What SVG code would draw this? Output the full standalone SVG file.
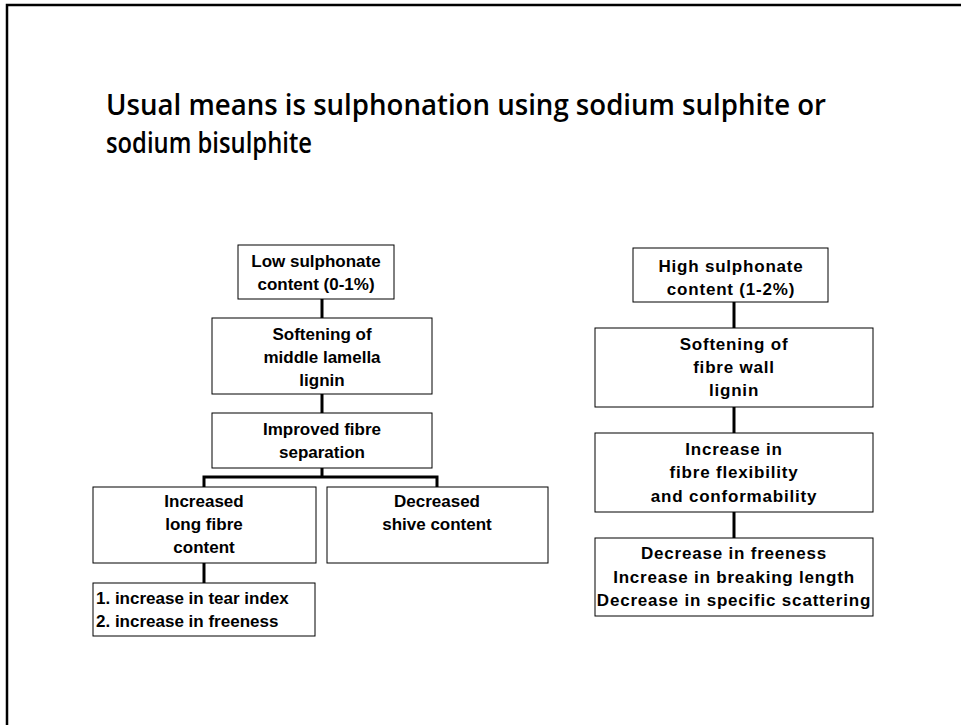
<svg xmlns="http://www.w3.org/2000/svg" width="961" height="725" viewBox="0 0 961 725">
<style>
.box{fill:#fff;stroke:#000;stroke-width:1}
.t{font-family:"Liberation Sans",Arial,sans-serif;font-weight:bold;font-size:17px;fill:#000;text-anchor:middle}
.tr{letter-spacing:0.8px}
.tl{text-anchor:start}
.c{stroke:#000;stroke-width:3;fill:none}
.title{font-family:"Open Sans","Liberation Sans",sans-serif;font-weight:600;font-size:29px;fill:#000}
</style>
<rect width="961" height="725" fill="#fff"/>
<path d="M7 725 V5 H961" fill="none" stroke="#000" stroke-width="2.5"/>
<g id="title">
<text class="title" x="106" y="115" textLength="720" lengthAdjust="spacingAndGlyphs">Usual means is sulphonation using sodium sulphite or</text>
<text class="title" x="106" y="153" textLength="206" lengthAdjust="spacingAndGlyphs">sodium bisulphite</text>
</g>
<g id="connectors">
<path class="c" d="M322 299 V318"/>
<path class="c" d="M322 394 V413"/>
<path class="c" d="M322 468 V477 M204 487 V477 H437 V487"/>
<path class="c" d="M204 563 V583"/>
<path class="c" d="M734 302 V328"/>
<path class="c" d="M734 407 V433"/>
<path class="c" d="M734 512 V538"/>
</g>
<g id="low">
<rect class="box" x="238" y="245" width="156" height="54"/>
<text class="t" x="316" y="267">Low sulphonate</text>
<text class="t" x="316" y="290">content (0-1%)</text>
</g>
<g id="soft-ml">
<rect class="box" x="212" y="318" width="220" height="76"/>
<text class="t" x="322" y="340">Softening of</text>
<text class="t" x="322" y="363">middle lamella</text>
<text class="t" x="322" y="386">lignin</text>
</g>
<g id="improved">
<rect class="box" x="212" y="413" width="220" height="55"/>
<text class="t" x="322" y="435">Improved fibre</text>
<text class="t" x="322" y="458">separation</text>
</g>
<g id="longfibre">
<rect class="box" x="93" y="487" width="223" height="76"/>
<text class="t" x="204" y="507">Increased</text>
<text class="t" x="204" y="530">long fibre</text>
<text class="t" x="204" y="553">content</text>
</g>
<g id="shive">
<rect class="box" x="327" y="487" width="221" height="76"/>
<text class="t" x="437" y="507">Decreased</text>
<text class="t" x="437" y="530">shive content</text>
</g>
<g id="tear">
<rect class="box" x="93" y="583" width="222" height="53"/>
<text class="t tl" x="96" y="604">1. increase in tear index</text>
<text class="t tl" x="96" y="627">2. increase in freeness</text>
</g>
<g id="high">
<rect class="box" x="633" y="248" width="195" height="54"/>
<text class="t tr" x="731" y="272">High sulphonate</text>
<text class="t tr" x="731" y="295">content (1-2%)</text>
</g>
<g id="soft-fw">
<rect class="box" x="595" y="328" width="278" height="79"/>
<text class="t tr" x="734" y="350">Softening of</text>
<text class="t tr" x="734" y="373">fibre wall</text>
<text class="t tr" x="734" y="396">lignin</text>
</g>
<g id="flex">
<rect class="box" x="595" y="433" width="278" height="79"/>
<text class="t tr" x="734" y="455">Increase in</text>
<text class="t tr" x="734" y="478">fibre flexibility</text>
<text class="t tr" x="734" y="502">and conformability</text>
</g>
<g id="results">
<rect class="box" x="595" y="538" width="278" height="78"/>
<text class="t tr" x="734" y="559">Decrease in freeness</text>
<text class="t tr" x="734" y="583">Increase in breaking length</text>
<text class="t tr" x="734" y="606">Decrease in specific scattering</text>
</g>
</svg>
